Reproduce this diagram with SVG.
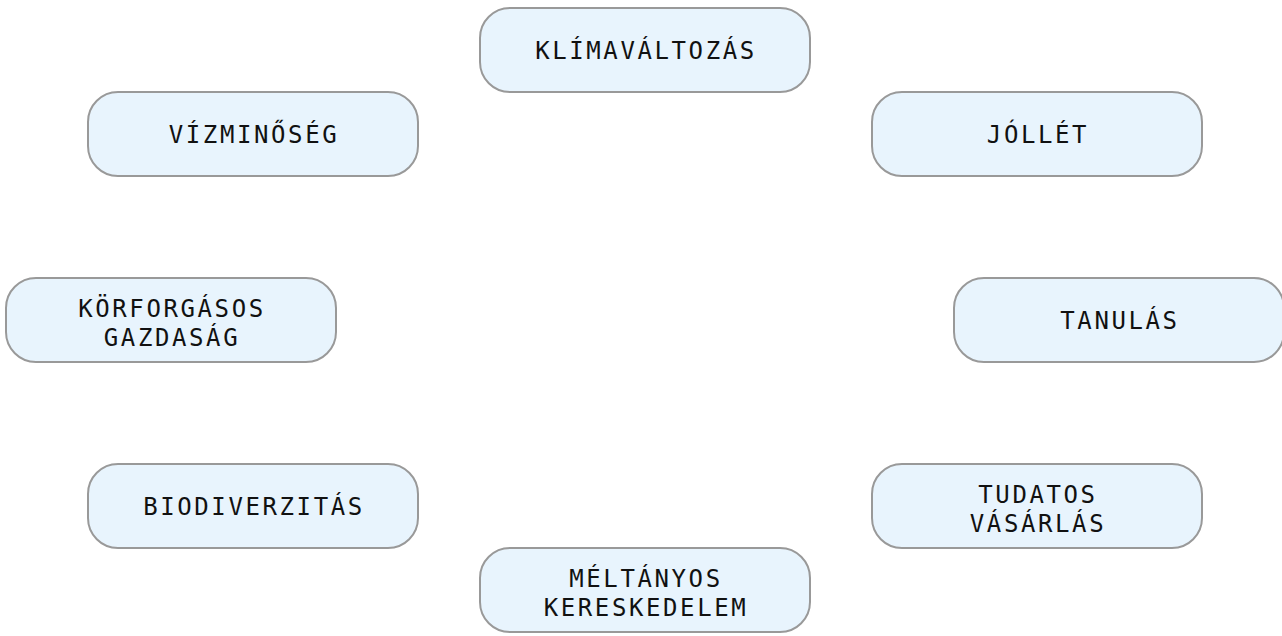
<svg xmlns="http://www.w3.org/2000/svg" width="1282" height="636" viewBox="0 0 1282 636">
<style>
.n rect{fill:#e8f4fd;stroke:#999999;stroke-width:2}
.n text{font-family:"DejaVu Sans Mono",monospace;font-size:24px;letter-spacing:2.6px;fill:#111;text-anchor:middle}
</style>
<rect width="1282" height="636" fill="#ffffff"/>
<g id="connectors"></g>
<g id="klimavaltozas" class="n"><rect x="480" y="8" width="330" height="84" rx="30"/><text x="646" y="59">KLÍMAVÁLTOZÁS</text></g>
<g id="vizminoseg" class="n"><rect x="88" y="92" width="330" height="84" rx="30"/><text x="254" y="143">VÍZMINŐSÉG</text></g>
<g id="jollet" class="n"><rect x="872" y="92" width="330" height="84" rx="30"/><text x="1038" y="143">JÓLLÉT</text></g>
<g id="korforgasos" class="n"><rect x="6" y="278" width="330" height="84" rx="30"/><text x="172" y="317">KÖRFORGÁSOS</text><text x="172" y="346">GAZDASÁG</text></g>
<g id="tanulas" class="n"><rect x="954" y="278" width="330" height="84" rx="30"/><text x="1120" y="329">TANULÁS</text></g>
<g id="biodiverzitas" class="n"><rect x="88" y="464" width="330" height="84" rx="30"/><text x="254" y="515">BIODIVERZITÁS</text></g>
<g id="tudatos" class="n"><rect x="872" y="464" width="330" height="84" rx="30"/><text x="1038" y="503">TUDATOS</text><text x="1038" y="532">VÁSÁRLÁS</text></g>
<g id="meltanyos" class="n"><rect x="480" y="548" width="330" height="84" rx="30"/><text x="646" y="587">MÉLTÁNYOS</text><text x="646" y="616">KERESKEDELEM</text></g>
</svg>
